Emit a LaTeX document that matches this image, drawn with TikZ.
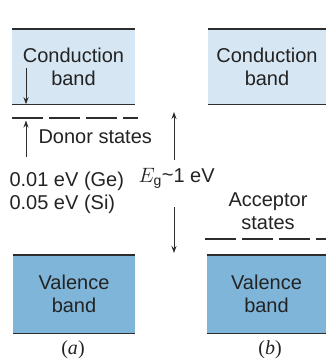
\documentclass[tikz,border=0pt]{standalone}
\usepackage{fontspec}
\setmainfont{Liberation Sans}
\newfontfamily\capfont{Liberation Serif}
\usetikzlibrary{arrows.meta,positioning}
\definecolor{condblue}{RGB}{214,230,242}
\definecolor{valblue}{RGB}{127,181,216}
\definecolor{edgegray}{RGB}{45,45,45}
\definecolor{txtgray}{RGB}{35,35,35}

\begin{document}
\begin{tikzpicture}[x=1pt, y=-1pt,
          font=\fontsize{20}{23}\selectfont, text=txtgray,
          band/.style={inner sep=0pt, align=center},
          edge/.style={edgegray, line width=1.4pt},
          levels/.style={edgegray, line width=1.2pt, dash pattern=on 31pt off 6pt},
          arr/.style={-{Stealth[length=7pt,width=5pt]}, edgegray, line width=1pt}]
        \useasboundingbox (0,0) rectangle (326,359);

        % bands
        \node[band,fill=condblue,minimum width=123pt,minimum height=75pt] (cbA) at (73.5,66.5) {Conduction\\band};
        \node[band,fill=condblue,minimum width=118pt,minimum height=75pt] (cbB) at (267,66.5) {Conduction\\band};
        \node[band,fill=valblue,minimum width=122pt,minimum height=78pt] (vbA) at (74,294) {Valence\\band};
        \node[band,fill=valblue,minimum width=119pt,minimum height=78pt] (vbB) at (266.5,294) {Valence\\band};
        \foreach \b in {cbA,cbB,vbA,vbB} {
          \draw[edge] (\b.north west) -- (\b.north east);
          \draw[edge] (\b.south west) -- (\b.south east);
        }

        % impurity levels
        \coordinate (donL) at (12,118);
        \coordinate (donR) at (138,118);
        \draw[levels] (donL) -- (donR);
        \coordinate (accL) at (205,239);
        \coordinate (accR) at (326,239);
        \draw[levels] (accL) -- (accR);

        % labels
        \node[anchor=west] (donor) at (35,137) {Donor states};
        \node[anchor=west,align=left] (ion) at (6,193) {0.01 eV (Ge)\\0.05 eV (Si)};
        \node[align=center] (acc) at (268,211.5) {Acceptor\\states};
        \node[anchor=west] (eg) at (135,178) {$E_{\mathrm{g}}$\raisebox{1pt}{\~{}}1 eV};
        \node (capA) at (73,350) {\capfont(\textit{a})};
        \node (capB) at (270,350) {\capfont(\textit{b})};

        % arrows
        \coordinate (dTop) at (26,68);
        \coordinate (dBot) at (26,157);
        \draw[arr] (dTop) -- (dTop |- cbA.south);
        \draw[arr] (dBot) -- (26,120.5);
        \coordinate (egUp) at (174,112);
        \coordinate (egDn) at (174,253);
        \draw[arr] (174,160) -- (egUp);
        \draw[arr] (174,207) -- (egDn);
      \end{tikzpicture}
\end{document}
